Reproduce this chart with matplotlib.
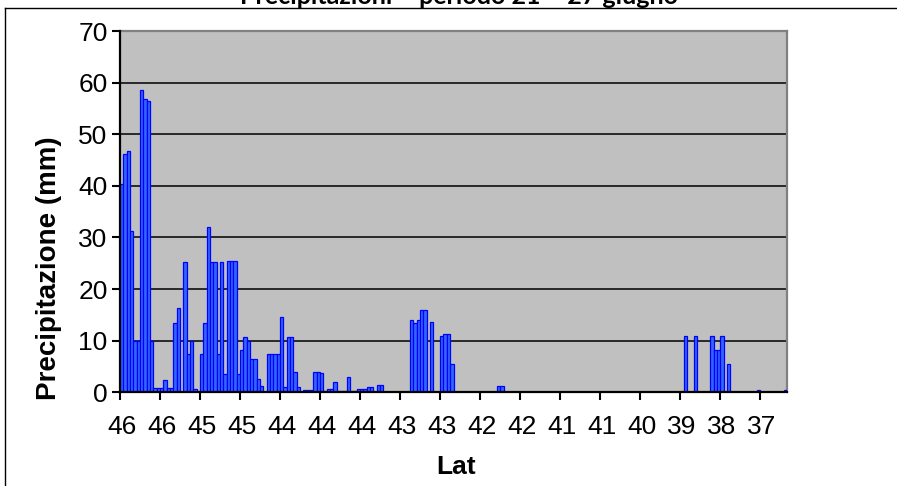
import matplotlib
matplotlib.use("Agg")
import matplotlib.pyplot as plt
from matplotlib.lines import Line2D
import numpy as np

# ---- data ----
precip = [
    40.3, 46.1, 46.8, 31.3, 10.0, 10.0, 58.5, 56.8, 56.5, 10.0,
    0.8, 0.8, 0.8, 2.3, 0.8, 0.8, 13.5, 16.3, 0.0, 25.2,
    7.4, 10.0, 0.6, 0.0, 7.4, 13.5, 32.1, 25.2, 25.2, 7.4,
    25.2, 3.5, 25.5, 25.5, 25.5, 3.5, 8.2, 10.8, 10.0, 6.5,
    6.5, 2.6, 1.2, 0.0, 7.4, 7.4, 7.4, 7.4, 14.6, 1.1,
    10.8, 10.8, 3.9, 1.1, 0.0, 0.4, 0.4, 0.4, 3.9, 3.9,
    3.8, 0.3, 0.7, 0.7, 1.9, 0.3, 0.3, 0.3, 3.0, 0.3,
    0.3, 0.7, 0.7, 0.7, 1.1, 1.1, 0.0, 1.5, 1.5, 0.0,
    0.0, 0.0, 0.0, 0.0, 0.0, 0.0, 0.0, 14.0, 13.5, 14.0,
    15.9, 15.9, 0.0, 13.6, 0.0, 0.0, 10.9, 11.2, 11.2, 5.4,
    0.0, 0.0, 0.0, 0.0, 0.0, 0.0, 0.0, 0.0, 0.0, 0.0,
    0.0, 0.0, 0.0, 1.2, 1.2, 0.0, 0.0, 0.0, 0.0, 0.0,
    0.0, 0.0, 0.0, 0.0, 0.0, 0.0, 0.0, 0.0, 0.0, 0.0,
    0.0, 0.0, 0.0, 0.0, 0.0, 0.0, 0.0, 0.0, 0.0, 0.0,
    0.0, 0.0, 0.0, 0.0, 0.0, 0.0, 0.0, 0.0, 0.0, 0.0,
    0.0, 0.0, 0.0, 0.0, 0.0, 0.0, 0.0, 0.0, 0.0, 0.0,
    0.0, 0.0, 0.0, 0.0, 0.0, 0.0, 0.0, 0.0, 0.0, 10.9,
    0.0, 0.0, 10.9, 0.0, 0.0, 0.0, 0.0, 10.9, 8.2, 8.2,
    10.9, 0.0, 5.5, 0.0, 0.0, 0.0, 0.0, 0.0, 0.0, 0.0,
    0.0, 0.45, 0.0, 0.0, 0.0, 0.0, 0.0, 0.0, 0.0, 0.45,
]
lat_labels = ["46", "46", "45", "45", "44", "44", "44", "43", "43",
              "42", "42", "41", "41", "40", "39", "38", "37"]
label_step = 12
y_ticks = [0, 10, 20, 30, 40, 50, 60, 70]

title = "Precipitazioni \u2013 periodo 21 \u2013 27 giugno"
xlabel = "Lat"
ylabel = "Precipitazione (mm)"

# ---- figure ----
W, H = 897, 486
fig = plt.figure(figsize=(W / 100, H / 100), dpi=100)
fig.patch.set_facecolor("white")

left, right, top, bottom = 120, 787, 31, 392.3
ax = fig.add_axes([left / W, 1 - bottom / H, (right - left) / W, (bottom - top) / H])
ax.set_facecolor("#C0C0C0")

n = len(precip)
x = np.arange(n)
ax.bar(x, precip, width=1.0, color="#3366FF", edgecolor="#0000FF",
       linewidth=0.9, zorder=3)

ax.set_xlim(-0.5, n - 0.5)
ax.set_ylim(0, 70)

# y axis
ax.set_yticks(y_ticks)
ax.set_yticklabels([str(v) for v in y_ticks], fontsize=19, family="Liberation Sans")
ax.yaxis.grid(True, color="black", linewidth=1.1, zorder=1)
ax.set_axisbelow(True)

# x axis: tick marks between categories, labels centred on categories
tick_cats = np.arange(0, len(lat_labels) * label_step, label_step)
ax.set_xticks(tick_cats - 0.5)
ax.set_xticklabels([])
ax.set_xticks(tick_cats, minor=True)
ax.set_xticklabels(lat_labels, minor=True, fontsize=19, family="Liberation Sans")
ax.tick_params(axis="x", which="minor", length=0, pad=16)
ax.tick_params(axis="x", which="major", length=6, width=1.5, color="black")
ax.tick_params(axis="y", length=6, width=1.5, color="black", pad=3)

for s in ("left", "bottom"):
    ax.spines[s].set_color("black")
    ax.spines[s].set_linewidth(1.6)
    ax.spines[s].set_zorder(5)
for s in ("top", "right"):
    ax.spines[s].set_color("#808080")
    ax.spines[s].set_linewidth(1.6)

# axis titles placed like the reference
fig.text(456 / W, 1 - 467 / H, xlabel, ha="center", va="center",
         fontsize=19, fontweight="bold", family="Liberation Sans")
fig.text(49 / W, 1 - 268 / H, ylabel, ha="center", va="center", rotation=90,
         fontsize=20, fontweight="bold", family="Liberation Sans")

# chart title (partly cut off at the top, like the reference)
fig.text(459 / W, 1 - 4 / H, title, ha="center", va="baseline",
         fontsize=18, fontweight="bold", family="Lato")

# chart-area border (left and top edges visible)
fig.add_artist(Line2D([4.5 / W, 4.5 / W], [0, 1 - 8.5 / H], transform=fig.transFigure,
                      color="black", linewidth=1.0))
fig.add_artist(Line2D([4.5 / W, 1], [1 - 8.5 / H, 1 - 8.5 / H], transform=fig.transFigure,
                      color="black", linewidth=1.0))

fig.savefig("out.png", dpi=100)
